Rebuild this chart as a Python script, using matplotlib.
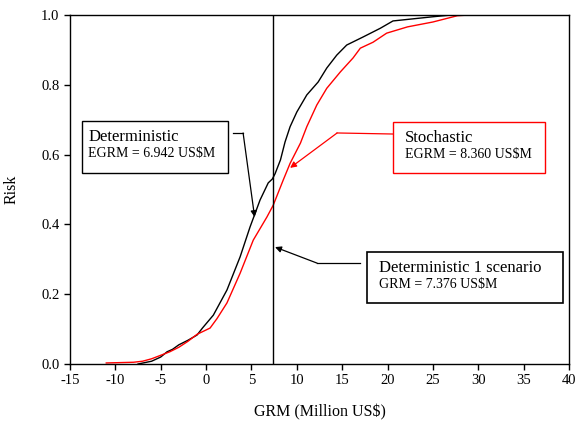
import matplotlib
matplotlib.use("Agg")
import matplotlib.pyplot as plt
from matplotlib.patches import Rectangle

plt.rcParams['font.family'] = ['Liberation Serif', 'DejaVu Serif']

# Deterministic cumulative risk curve
det_x = [-7.5, -6, -5, -4.3, -3.7, -3, -2, -1, -0.4, 0.8, 2.3, 3.75, 4.85, 5.95,
         6.85, 7.3, 7.6, 8.2, 8.7, 9.26, 10.0, 11.1, 12.35, 13.3, 14.4, 15.5,
         17.3, 19.2, 20.6, 25, 27]
det_y = [0.0, 0.008, 0.02, 0.035, 0.042, 0.055, 0.068, 0.083, 0.103, 0.14,
         0.212, 0.307, 0.393, 0.47, 0.519, 0.53, 0.545, 0.585, 0.636, 0.68,
         0.722, 0.771, 0.808, 0.848, 0.885, 0.914, 0.937, 0.962, 0.983, 0.995, 1.0]

# Stochastic cumulative risk curve
sto_x = [-11, -8, -7, -6, -5, -4, -3, -2, -1, 0.44, 1.2, 2.3, 3.75, 5.2, 6.7,
         7.4, 8.5, 9.26, 10.4, 11.1, 12.2, 13.3, 14.8, 16.2, 17.0, 18.4, 19.9,
         22.2, 25, 27.7, 29, 33.5]
sto_y = [0.003, 0.005, 0.008, 0.015, 0.025, 0.035, 0.048, 0.065, 0.085, 0.103,
         0.13, 0.175, 0.26, 0.355, 0.421, 0.455, 0.527, 0.575, 0.633, 0.68,
         0.742, 0.79, 0.837, 0.877, 0.905, 0.922, 0.948, 0.966, 0.98, 0.998,
         1.0, 1.0]

det_scenario_grm = 7.376
egrm_det = 6.942
egrm_sto = 8.360

xticks = list(range(-15, 41, 5))
yticks = [0.0, 0.2, 0.4, 0.6, 0.8, 1.0]

fig = plt.figure(figsize=(5.75, 4.24), dpi=100)
ax = fig.add_axes([0.1217, 0.1415, 0.8679, 0.8231])

ax.plot(det_x, det_y, color='black', lw=1.0)
ax.plot(sto_x, sto_y, color='red', lw=1.0)
ax.axvline(det_scenario_grm, color='black', lw=1.0)

ax.set_xlim(-15, 40)
ax.set_ylim(0, 1)
ax.set_xticks(xticks)
ax.set_xticklabels([str(t) for t in xticks])
ax.set_yticks(yticks)
ax.set_yticklabels([f"{t:.1f}" for t in yticks])
ax.tick_params(direction='out', length=4, labelsize=10.5, width=1)
for s in ax.spines.values():
    s.set_linewidth(1.0)

ax.set_xlabel("GRM (Million US$)", fontsize=11.5)
ax.xaxis.set_label_coords(0.5, -0.115)
ax.set_ylabel("Risk", fontsize=11.5)
ax.yaxis.set_label_coords(-0.1, 0.5)

ap = dict(arrowstyle='-|>', mutation_scale=9, shrinkA=0, shrinkB=0, lw=0.9)

# Deterministic box
ax.add_patch(Rectangle((-13.67, 0.547), 16.1, 0.149, fill=False, ec='black', lw=1.0))
ax.text(-13.0, 0.650, "Deterministic", fontsize=12, va='center', ha='left')
ax.text(-13.0, 0.602, f"EGRM = {egrm_det:.3f} US$M", fontsize=10, va='center', ha='left')
ax.plot([2.98, 4.08], [0.662, 0.662], color='black', lw=0.9)
ax.annotate("", xy=(5.35, 0.421), xytext=(4.08, 0.662),
            arrowprops=dict(ap, color='black'))

# Stochastic box
ax.add_patch(Rectangle((20.6, 0.547), 16.8, 0.146, fill=False, ec='red', lw=1.0))
ax.text(21.9, 0.648, "Stochastic", fontsize=12, va='center', ha='left')
ax.text(21.9, 0.599, f"EGRM = {egrm_sto:.3f} US$M", fontsize=10, va='center', ha='left')
ax.plot([20.6, 14.44], [0.659, 0.662], color='red', lw=0.9)
ax.annotate("", xy=(9.26, 0.562), xytext=(14.44, 0.662),
            arrowprops=dict(ap, color='red'))

# Deterministic 1 scenario box
ax.add_patch(Rectangle((17.75, 0.175), 21.6, 0.146, fill=False, ec='black', lw=1.2))
ax.text(19.1, 0.275, "Deterministic 1 scenario", fontsize=12, va='center', ha='left')
ax.text(19.1, 0.229, f"GRM = {det_scenario_grm:.3f} US$M", fontsize=10, va='center', ha='left')
ax.plot([16.98, 12.24], [0.289, 0.289], color='black', lw=0.9)
ax.annotate("", xy=(7.6, 0.335), xytext=(12.24, 0.289),
            arrowprops=dict(ap, color='black'))

fig.savefig("out.png", dpi=100)
